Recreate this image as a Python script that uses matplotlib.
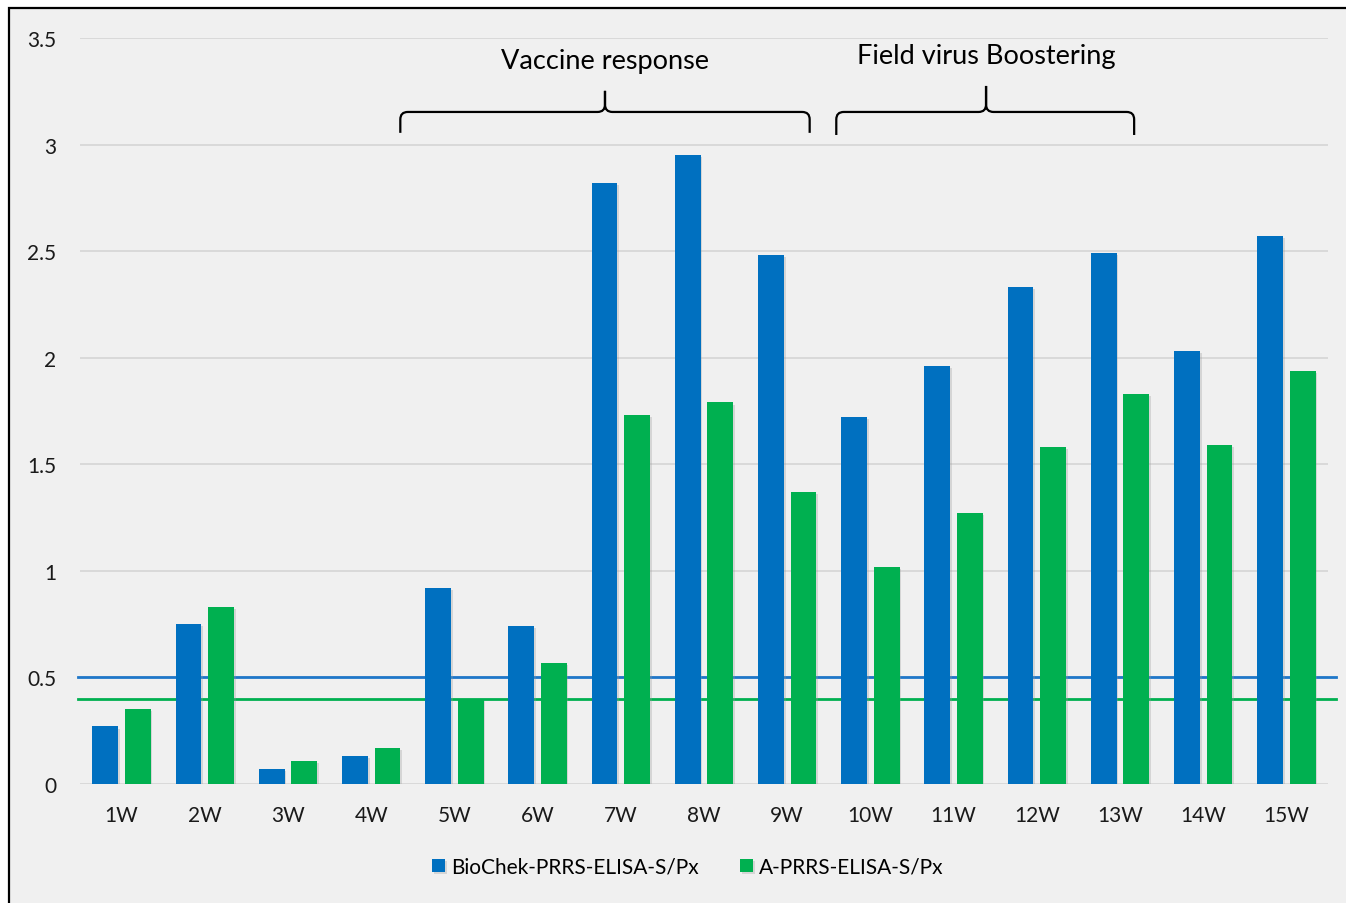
import matplotlib
matplotlib.use("Agg")
import matplotlib.pyplot as plt
import matplotlib.patheffects as pe
import numpy as np
from matplotlib.patches import Rectangle, PathPatch
from matplotlib.path import Path

weeks = ["1W", "2W", "3W", "4W", "5W", "6W", "7W", "8W", "9W", "10W",
         "11W", "12W", "13W", "14W", "15W"]
biochek = [0.27, 0.75, 0.07, 0.13, 0.92, 0.74, 2.82, 2.95, 2.48, 1.72,
           1.96, 2.33, 2.49, 2.03, 2.57]
a_prrs = [0.35, 0.83, 0.11, 0.17, 0.40, 0.57, 1.73, 1.79, 1.37, 1.02,
          1.27, 1.58, 1.83, 1.59, 1.94]
cutoff_biochek = 0.5
cutoff_a = 0.4

BLUE = "#0070c0"
GREEN = "#00b050"
BG = "#f0f0f0"

plt.rcParams["font.family"] = ["Lato", "DejaVu Sans"]

fig = plt.figure(figsize=(13.46, 9.04), dpi=100, facecolor="white")

# chart area with black frame (right/bottom edges fall outside the image)
frame = Rectangle((9 / 1346, -0.05), 1.1, 1 - 9 / 904 + 0.05,
                  transform=fig.transFigure, facecolor=BG,
                  edgecolor="black", linewidth=1.6, zorder=-10)
fig.patches.append(frame)

ax = fig.add_axes([80 / 1346, 1 - 785 / 904, (1328 - 80) / 1346, (785 - 39) / 904])
ax.set_facecolor(BG)

x = np.arange(len(weeks))
w = 0.31
shadow = [pe.SimplePatchShadow(offset=(1.2, -1.5), shadow_rgbFace="#999999", alpha=0.3),
          pe.Normal()]
b1 = ax.bar(x - 0.195, biochek, width=w, color=BLUE, zorder=3,
            label="BioChek-PRRS-ELISA-S/Px")
b2 = ax.bar(x + 0.195, a_prrs, width=w, color=GREEN, zorder=3,
            label="A-PRRS-ELISA-S/Px")
for bar in list(b1) + list(b2):
    bar.set_path_effects(shadow)

# cut-off lines
ax.plot([-0.52, 14.6], [cutoff_biochek] * 2, color="#1f77c9", lw=2.0,
        zorder=2, clip_on=False)
ax.plot([-0.52, 14.6], [cutoff_a] * 2, color=GREEN, lw=2.0,
        zorder=2, clip_on=False)

ax.set_xlim(-0.5, 14.5)
ax.set_ylim(0, 3.5)
ax.set_yticks([0, 0.5, 1, 1.5, 2, 2.5, 3, 3.5])
ax.set_yticklabels(["0", "0.5", "1", "1.5", "2", "2.5", "3", "3.5"])
ax.set_xticks(x)
ax.set_xticklabels(weeks)
ax.tick_params(axis="both", length=0, labelsize=15, colors="#1a1a1a")
ax.tick_params(axis="y", pad=17)
ax.tick_params(axis="x", pad=15)
ax.grid(axis="y", color="#d9d9d9", lw=1.4, zorder=0)
ax.set_axisbelow(True)
for s in ax.spines.values():
    s.set_visible(False)


def brace(x0, x1, xc, ybot, ytop, ytip):
    rx, ry = 0.09, 0.035
    verts = [(x0, ybot), (x0, ytop - ry), (x0, ytop), (x0 + rx, ytop),
             (xc - rx, ytop), (xc, ytop), (xc, ytop + ry), (xc, ytip),
             (xc, ytop + ry), (xc, ytop), (xc + rx, ytop),
             (x1 - rx, ytop), (x1, ytop), (x1, ytop - ry), (x1, ybot)]
    codes = [Path.MOVETO, Path.LINETO, Path.CURVE3, Path.CURVE3,
             Path.LINETO, Path.CURVE3, Path.CURVE3, Path.LINETO,
             Path.LINETO, Path.CURVE3, Path.CURVE3,
             Path.LINETO, Path.CURVE3, Path.CURVE3, Path.LINETO]
    ax.add_patch(PathPatch(Path(verts, codes), facecolor="none",
                           edgecolor="black", lw=1.6, zorder=5,
                           clip_on=False))


brace(3.35, 8.27, 5.81, 3.055, 3.153, 3.252)
brace(8.59, 12.17, 10.39, 3.045, 3.153, 3.275)
ax.text(5.81, 3.393, "Vaccine response", ha="center", va="center",
        fontsize=19.5, color="black", zorder=5)
ax.text(10.39, 3.42, "Field virus Boostering", ha="center", va="center",
        fontsize=19.5, color="black", zorder=5)

fig.legend(handles=[b1, b2], loc="center", ncol=2,
           bbox_to_anchor=(688 / 1346, 1 - 868 / 904), frameon=False,
           fontsize=15, handlelength=0.6, handleheight=0.6,
           handletextpad=0.3, columnspacing=2.0)

fig.savefig("out.png", dpi=100, facecolor="white")
